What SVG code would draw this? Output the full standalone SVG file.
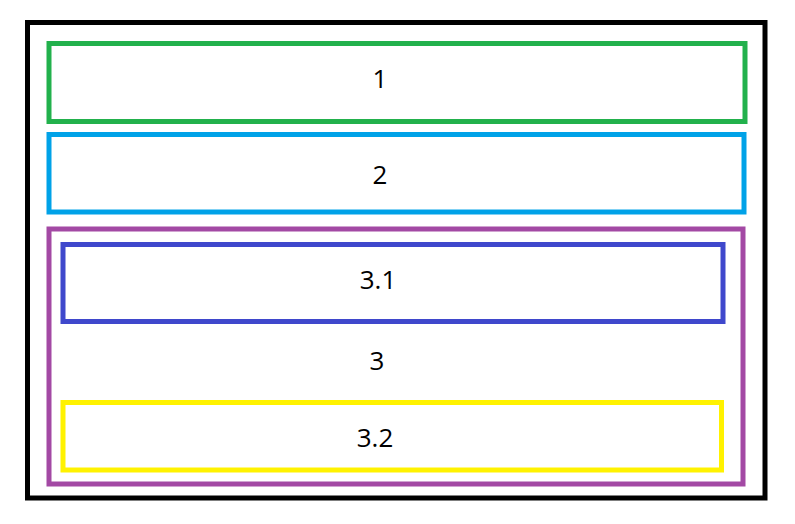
<svg xmlns="http://www.w3.org/2000/svg" width="795" height="524" viewBox="0 0 795 524">
<style>
rect{fill:none;stroke-width:5}
text{font-family:"Open Sans","Liberation Sans",sans-serif;font-size:26px;fill:#000;text-anchor:middle;dominant-baseline:central}
</style>
<rect width="795" height="524" fill="#fff" stroke="none" style="fill:#fff"/>
<g id="outer"><rect x="27.5" y="22.5" width="737.5" height="475.5" stroke="#000"/></g>
<g id="n1"><rect x="49" y="43.5" width="696" height="78" stroke="#22b14c"/><text x="380" y="78">1</text></g>
<g id="n2"><rect x="49" y="134.5" width="695" height="77.5" stroke="#00a2e8"/><text x="380" y="174">2</text></g>
<g id="n3"><rect x="49" y="229" width="694" height="255" stroke="#a349a4"/><text x="377" y="360">3</text>
<g id="n31"><rect x="63" y="244.5" width="660" height="77" stroke="#3f48cc"/><text x="378" y="279">3.1</text></g>
<g id="n32"><rect x="63" y="402.5" width="658.5" height="67.5" stroke="#fff200"/><text x="375" y="437">3.2</text></g>
</g>
<g id="connectors"/>
</svg>
